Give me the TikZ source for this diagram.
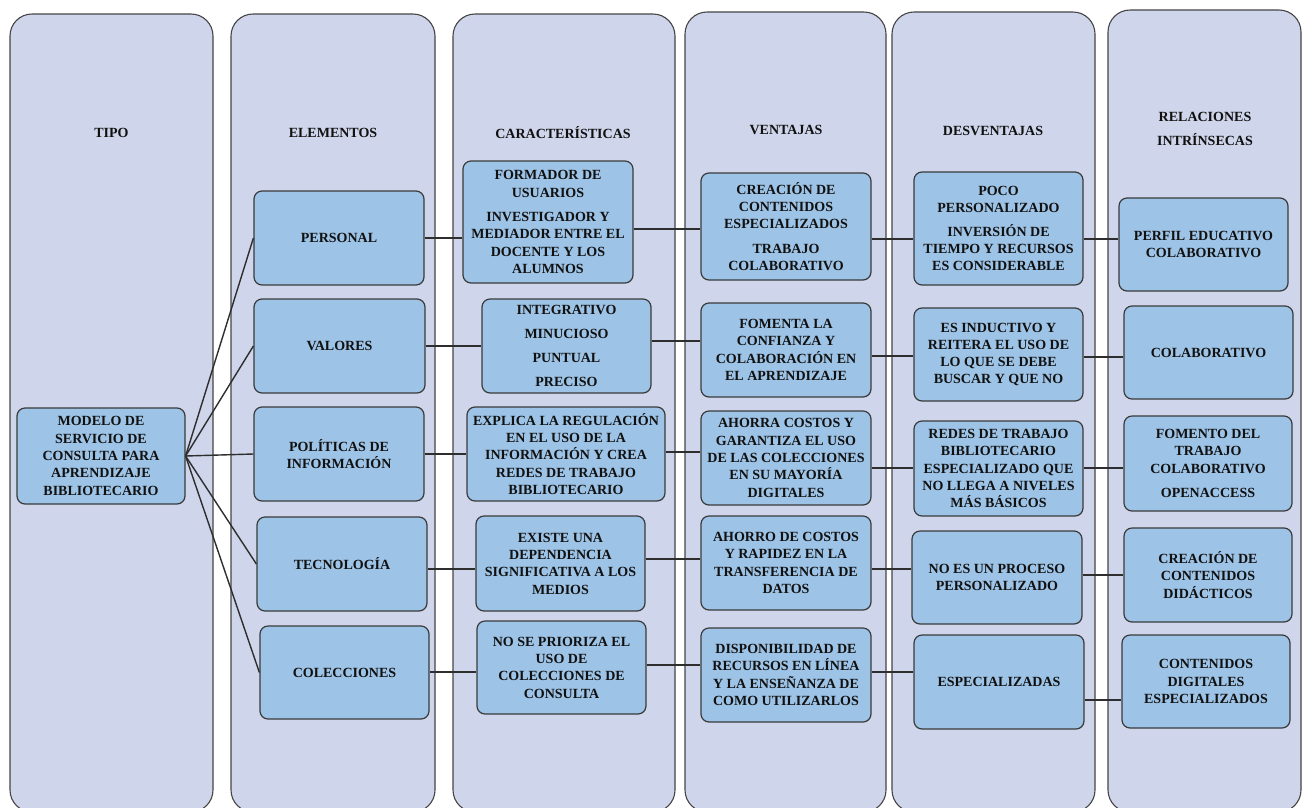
\documentclass[tikz,border=0pt]{standalone}
\usepackage{fontspec}
\setmainfont{Liberation Serif}
\usetikzlibrary{calc}

\definecolor{colfill}{HTML}{CFD5EA}
\definecolor{colborder}{HTML}{454545}
\definecolor{boxfill}{HTML}{9DC3E6}
\definecolor{boxborder}{HTML}{3A3A3A}
\definecolor{linecol}{HTML}{2E2E2E}
\definecolor{txt}{HTML}{111111}

\tikzset{
  lane/.style={draw=colborder, fill=colfill, rounded corners=22pt, line width=1.1pt},
  lanehead/.style={align=center, inner sep=0pt, text=txt,
    font=\bfseries\fontsize{14}{17.3}\selectfont},
  itembox/.style={rectangle, draw=boxborder, fill=boxfill, rounded corners=8pt,
    line width=1.2pt, align=center, inner sep=0pt, text=txt,
    font=\bfseries\fontsize{14}{17.3}\selectfont},
  conn/.style={draw=linecol, line width=1.4pt},
}

% horizontal link from the right side of #1 to the left side of #2,
% shifted vertically by #3 (in pt, negative = downward)
\newcommand\joinbox[3]{\draw[conn] ([yshift=#3pt]#1.east) -- ([yshift=#3pt]#1.east -| #2.west);}

\begin{document}
\begin{tikzpicture}[x=1pt,y=-1pt]
\useasboundingbox (0,0) rectangle (1302,807);
\fill[white] (0,0) rectangle (1302,807);
\clip (0,0) rectangle (1302,807);

% ---- lanes ----
\draw[lane] (10,14) rectangle (213,812);
\draw[lane] (231,14) rectangle (435,812);
\draw[lane] (453,14) rectangle (675,812);
\draw[lane] (685,12) rectangle (886,812);
\draw[lane] (892,12) rectangle (1095,812);
\draw[lane] (1108,10) rectangle (1301,812);

\node[lanehead] (hTipo) at (111.5,133) {TIPO};
\node[lanehead] (hElem) at (333,133) {ELEMENTOS};
\node[lanehead] (hCar)  at (563,133) {CARACTERÍSTICAS};
\node[lanehead] (hVen)  at (786,130) {VENTAJAS};
\node[lanehead] (hDes)  at (993,131) {DESVENTAJAS};
\node[lanehead] (hRel)  at (1205,129) {RELACIONES\\[6.5pt]INTRÍNSECAS};

% ---- type ----
\node[itembox, minimum width=168pt, minimum height=96pt] (modelo) at (101,456)
  {MODELO DE\\SERVICIO DE\\CONSULTA PARA\\APRENDIZAJE\\BIBLIOTECARIO};

% ---- elements ----
\node[itembox, minimum width=170pt, minimum height=94pt] (personal) at (339,238) {PERSONAL};
\node[itembox, minimum width=171pt, minimum height=94pt] (valores) at (339.5,346) {VALORES};
\node[itembox, minimum width=170pt, minimum height=94pt] (politicas) at (339,454) {POLÍTICAS DE\\INFORMACIÓN};
\node[itembox, minimum width=170pt, minimum height=94pt] (tecnologia) at (342,564) {TECNOLOGÍA};
\node[itembox, minimum width=169pt, minimum height=93pt] (colecciones) at (344.5,672.5) {COLECCIONES};

% ---- characteristics ----
\node[itembox, minimum width=170pt, minimum height=122pt] (formador) at (548,222)
  {FORMADOR DE\\USUARIOS\\[7pt]INVESTIGADOR Y\\MEDIADOR ENTRE EL\\DOCENTE Y LOS\\ALUMNOS};
\node[itembox, minimum width=169pt, minimum height=94pt] (integrativo) at (566.5,346)
  {INTEGRATIVO\\[6.5pt]MINUCIOSO\\[6.5pt]PUNTUAL\\[6.5pt]PRECISO};
\node[itembox, minimum width=198pt, minimum height=94pt] (explica) at (566,454)
  {EXPLICA LA REGULACIÓN\\EN EL USO DE LA\\INFORMACIÓN Y CREA\\REDES DE TRABAJO\\BIBLIOTECARIO};
\node[itembox, minimum width=169pt, minimum height=95pt] (existe) at (560.5,563.5)
  {EXISTE UNA\\DEPENDENCIA\\SIGNIFICATIVA A LOS\\MEDIOS};
\node[itembox, minimum width=169pt, minimum height=93pt] (noprioriza) at (561.5,667.5)
  {NO SE PRIORIZA EL\\USO DE\\COLECCIONES DE\\CONSULTA};

% ---- advantages ----
\node[itembox, minimum width=170pt, minimum height=107pt] (creacion) at (786,226.5)
  {CREACIÓN DE\\CONTENIDOS\\ESPECIALIZADOS\\[7pt]TRABAJO\\COLABORATIVO};
\node[itembox, minimum width=170pt, minimum height=94pt] (fomenta) at (786,350)
  {FOMENTA LA\\CONFIANZA Y\\COLABORACIÓN EN\\EL APRENDIZAJE};
\node[itembox, minimum width=170pt, minimum height=94pt] (ahorra) at (786,458)
  {AHORRA COSTOS Y\\GARANTIZA EL USO\\DE LAS COLECCIONES\\EN SU MAYORÍA\\DIGITALES};
\node[itembox, minimum width=170pt, minimum height=94pt] (ahorro) at (786,563)
  {AHORRO DE COSTOS\\Y RAPIDEZ EN LA\\TRANSFERENCIA DE\\DATOS};
\node[itembox, minimum width=170pt, minimum height=94pt] (disponib) at (786,675)
  {DISPONIBILIDAD DE\\RECURSOS EN LÍNEA\\Y LA ENSEÑANZA DE\\COMO UTILIZARLOS};

% ---- disadvantages ----
\node[itembox, minimum width=169pt, minimum height=113pt] (poco) at (998.5,228.5)
  {POCO\\PERSONALIZADO\\[6pt]INVERSIÓN DE\\TIEMPO Y RECURSOS\\ES CONSIDERABLE};
\node[itembox, minimum width=169pt, minimum height=93pt] (inductivo) at (998.5,354.5)
  {ES INDUCTIVO Y\\REITERA EL USO DE\\LO QUE SE DEBE\\BUSCAR Y QUE NO};
\node[itembox, minimum width=169pt, minimum height=95pt] (redes) at (998.5,468.5)
  {REDES DE TRABAJO\\BIBLIOTECARIO\\ESPECIALIZADO QUE\\NO LLEGA A NIVELES\\MÁS BÁSICOS};
\node[itembox, minimum width=170pt, minimum height=93pt] (noproceso) at (997,577.5)
  {NO ES UN PROCESO\\PERSONALIZADO};
\node[itembox, minimum width=170pt, minimum height=94pt] (especializadas) at (999,682)
  {ESPECIALIZADAS};

% ---- intrinsic relations ----
\node[itembox, minimum width=169pt, minimum height=93pt] (perfil) at (1203.5,244.5)
  {PERFIL EDUCATIVO\\COLABORATIVO};
\node[itembox, minimum width=169pt, minimum height=93pt] (colaborativo) at (1208.5,352.5)
  {COLABORATIVO};
\node[itembox, minimum width=168pt, minimum height=95pt] (fomento) at (1208,463.5)
  {FOMENTO DEL\\TRABAJO\\COLABORATIVO\\[7pt]OPENACCESS};
\node[itembox, minimum width=168pt, minimum height=94pt] (didacticos) at (1208,575)
  {CREACIÓN DE\\CONTENIDOS\\DIDÁCTICOS};
\node[itembox, minimum width=168pt, minimum height=93pt] (digitales) at (1206,681.5)
  {CONTENIDOS\\DIGITALES\\ESPECIALIZADOS};

% ---- fan from the type to its elements ----
\foreach \e in {personal,valores,politicas,tecnologia,colecciones}
  \draw[conn] (modelo.east) -- (\e.west);

% ---- row links ----
\joinbox{personal}{formador}{0}
\joinbox{valores}{integrativo}{0}
\joinbox{politicas}{explica}{0}
\joinbox{tecnologia}{existe}{-5}
\joinbox{colecciones}{noprioriza}{0.5}

\joinbox{formador}{creacion}{-7}
\joinbox{integrativo}{fomenta}{5}
\joinbox{explica}{ahorra}{2}
\joinbox{existe}{ahorro}{4.5}
\joinbox{noprioriza}{disponib}{2.5}

\joinbox{creacion}{poco}{-12.5}
\joinbox{fomenta}{inductivo}{-6}
\joinbox{ahorra}{redes}{-10}
\joinbox{ahorro}{noproceso}{-6}
\joinbox{disponib}{especializadas}{3}

\joinbox{poco}{perfil}{-10.5}
\joinbox{inductivo}{colaborativo}{-2.5}
\joinbox{redes}{fomento}{0.5}
\joinbox{noproceso}{didacticos}{2.5}
\joinbox{especializadas}{digitales}{-18}
\end{tikzpicture}
\end{document}
